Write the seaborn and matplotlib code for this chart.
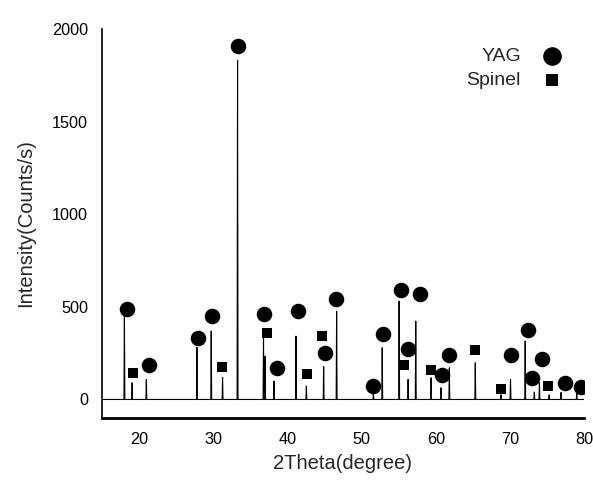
import numpy as np
import pandas as pd
import matplotlib
matplotlib.use("Agg")
import matplotlib.pyplot as plt
import seaborn as sns

# peak positions (2theta) and peak heights of the measured trace
peak_pos = [18.02, 19.06, 20.98, 27.80, 29.73, 31.26, 33.28, 36.78, 37.00, 38.20,
            41.16, 42.56, 44.89, 46.64, 51.60, 52.79, 55.07, 56.28, 57.31, 59.38,
            60.72, 61.84, 65.34, 68.80, 70.09, 72.07, 73.30, 73.99, 75.30, 76.91, 79.02]
peak_int = [449, 90, 108, 281, 369, 119, 1832, 335, 234, 99,
            342, 72, 177, 477, 30, 279, 531, 108, 423, 117,
            63, 171, 198, 25, 108, 315, 40, 90, 25, 38, 38]

# phase markers
yag_x = [18.35, 21.31, 27.90, 29.78, 33.32, 36.78, 38.57, 41.49, 45.02, 46.54, 51.57, 52.92,
         55.34, 56.28, 57.84, 60.86, 61.84, 70.18, 72.43, 73.05, 74.31, 77.44, 79.60]
yag_y = [486, 185, 330, 449, 1908, 459, 171, 477, 249, 541, 72, 355,
         589, 274, 568, 130, 239, 238, 373, 117, 220, 90, 69]
spinel_x = [19.15, 31.17, 37.27, 42.60, 44.71, 55.79, 59.38, 65.25, 68.75, 75.20]
spinel_y = [141, 175, 361, 139, 342, 184, 157, 266, 59, 74]

sns.set_theme(style="white")
plt.rcParams['font.family'] = ['Liberation Sans', 'DejaVu Sans']

# stick-style trace built from the peak list
tx, ty = [15.0], [0.0]
for p, h in zip(peak_pos, peak_int):
    tx += [p - 0.06, p, p + 0.06]
    ty += [0.0, h, 0.0]
tx.append(80.0)
ty.append(0.0)
trace = pd.DataFrame({'two_theta': tx, 'intensity': ty})

fig = plt.figure(figsize=(5.93, 4.8), dpi=100)
ax = fig.add_axes([102 / 593, 1 - 418 / 480, (584 - 102) / 593, (418 - 29) / 480])

sns.lineplot(data=trace, x='two_theta', y='intensity', sort=False, estimator=None,
             color='black', linewidth=0.8, ax=ax)
sns.scatterplot(x=yag_x, y=yag_y, marker='o', s=125, color='black', edgecolor='black',
                linewidth=0, label='YAG', ax=ax, zorder=3)
sns.scatterplot(x=spinel_x, y=spinel_y, marker='s', s=60, color='black', edgecolor='black',
                linewidth=0, label='Spinel', ax=ax, zorder=3)

ax.set_xlim(15, 80)
ax.set_ylim(-100, 2000)
ax.set_xticks(range(20, 81, 10))
ax.set_yticks(range(0, 2001, 500))
ax.tick_params(length=0, pad=10, labelsize=11.7, colors='black')
ax.set_xlabel("2Theta(degree)", fontsize=14.5, labelpad=5)
ax.set_ylabel("Intensity(Counts/s)", fontsize=14.5, labelpad=12)

for s in ['top', 'right']:
    ax.spines[s].set_visible(False)
ax.spines['left'].set_linewidth(1.2)
ax.spines['bottom'].set_linewidth(2)
ax.spines['left'].set_color('black')
ax.spines['bottom'].set_color('black')

ax.legend(markerfirst=False, frameon=False, fontsize=14, loc='upper right',
          bbox_to_anchor=(0.993, 0.938), bbox_transform=fig.transFigure,
          markerscale=1.2, handletextpad=0.6, labelspacing=0.35)

fig.savefig('out.png', dpi=100)
